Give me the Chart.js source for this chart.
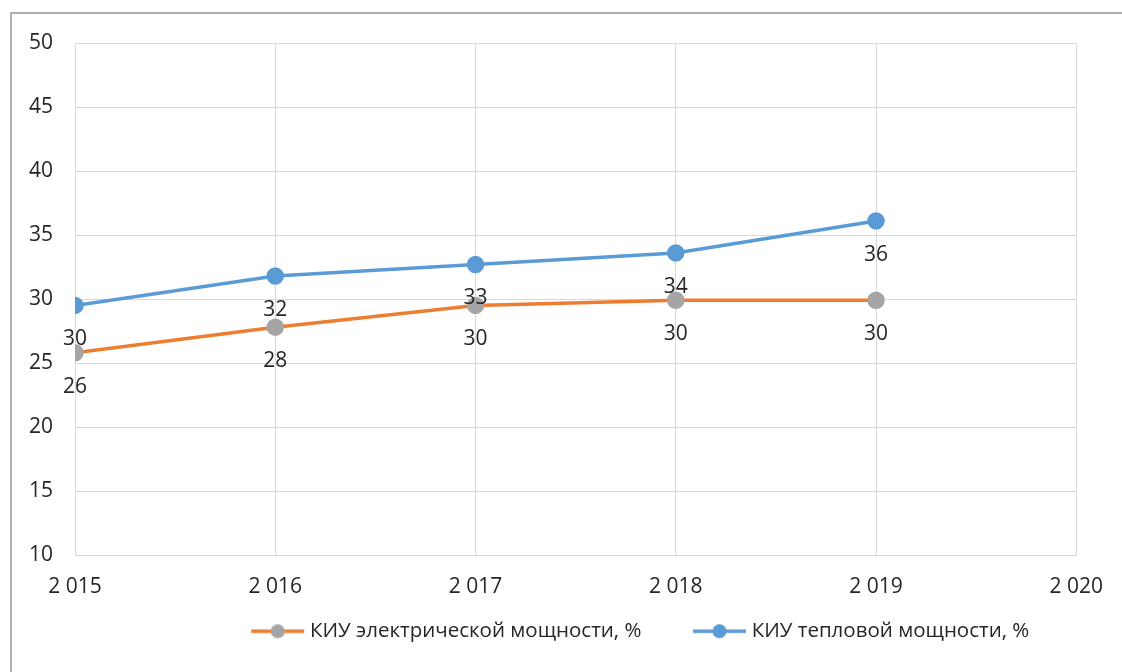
<!DOCTYPE html>
<html>
<head>
<meta charset="utf-8">
<script src="https://cdn.jsdelivr.net/npm/chart.js@4"></script>
<style>
  html, body { margin: 0; padding: 0; background: #fff; overflow: hidden; }
  #wrap { position: relative; width: 1122px; height: 672px; }
  #frame { position: absolute; left: 10px; top: 12px; width: 1200px; height: 800px;
           border-left: 2px solid #b3b3b3; border-top: 2px solid #adadad; }
  #myChart { position: absolute; left: 0; top: 0; }
</style>
</head>
<body>
<div id="wrap">
  <div id="frame"></div>
  <canvas id="myChart" width="1122" height="672"></canvas>
</div>
<script>
// Данные графика
var years = [2015, 2016, 2017, 2018, 2019];
var kiuElectric = [25.8, 27.8, 29.5, 29.9, 29.9];
var kiuHeat = [29.5, 31.8, 32.7, 33.6, 36.1];
var seriesNames = ['КИУ электрической мощности, %', 'КИУ тепловой мощности, %'];
var yTicks = [10, 15, 20, 25, 30, 35, 40, 45, 50];

var FONT = '"Open Sans", sans-serif';
var FSIZE = 21;
var textColor = '#262626';

function toPoints(vals) {
    return vals.map(function (v, i) { return { x: years[i], y: v }; });
}

// маркер легенды: линия с кружком
function legendMarker(lineColor, dotColor) {
    var c = document.createElement('canvas');
    c.width = 55; c.height = 16;
    var g = c.getContext('2d');
    g.strokeStyle = lineColor;
    g.lineWidth = 3.5;
    g.beginPath(); g.moveTo(1, 8); g.lineTo(54, 8); g.stroke();
    g.fillStyle = dotColor;
    g.beginPath(); g.arc(27.5, 8, 7, 0, Math.PI * 2); g.fill();
    return c;
}
var markers = [legendMarker('#ED7D31', '#A5A5A5'), legendMarker('#5B9BD5', '#5B9BD5')];

// подписи значений под точками
var valueLabels = {
    id: 'valueLabels',
    afterDatasetsDraw: function (chart) {
        var ctx = chart.ctx;
        ctx.save();
        ctx.font = FSIZE + 'px ' + FONT;
        ctx.fillStyle = textColor;
        ctx.textAlign = 'center';
        ctx.textBaseline = 'middle';
        chart.data.datasets.forEach(function (ds, di) {
            chart.getDatasetMeta(di).data.forEach(function (pt, i) {
                ctx.fillText(Math.round(ds.data[i].y), pt.x, pt.y + 34);
            });
        });
        ctx.restore();
    }
};

// легенда: широкий отступ между элементами, но низкая и сдвинутая
var legendPatch = {
    id: 'legendPatch',
    beforeUpdate: function (chart) {
        var lg = chart.legend;
        if (lg && !lg._patched) {
            var fit = lg.fit;
            lg.fit = function () { fit.call(this); this.height = 67; };
            lg._patched = true;
        }
    },
    afterLayout: function (chart) {
        var lg = chart.legend;
        lg.top -= 40;
        lg.left += 104;
        lg.right += 104;
    }
};

var chart = document.getElementById('myChart').getContext('2d');
var myChart = new Chart(chart, {
    type: 'line',
    data: {
        datasets: [
            {
                label: seriesNames[0],
                data: toPoints(kiuElectric),
                borderColor: '#ED7D31',
                backgroundColor: '#A5A5A5',
                pointBackgroundColor: '#A5A5A5',
                pointBorderColor: '#A5A5A5',
                borderWidth: 3.5,
                pointRadius: 7,
                fill: false
            },
            {
                label: seriesNames[1],
                data: toPoints(kiuHeat),
                borderColor: '#5B9BD5',
                backgroundColor: '#5B9BD5',
                pointBackgroundColor: '#5B9BD5',
                pointBorderColor: '#5B9BD5',
                borderWidth: 3.5,
                pointRadius: 7,
                fill: false
            }
        ]
    },
    options: {
        responsive: false,
        animation: false,
        layout: { padding: { top: 43, right: 45, left: 0, bottom: 0 } },
        plugins: {
            tooltip: { enabled: false },
            legend: {
                position: 'bottom',
                labels: {
                    usePointStyle: true,
                    pointStyleWidth: 44,
                    padding: 56,
                    color: textColor,
                    font: { family: FONT, size: 20.5 },
                    generateLabels: function (ch) {
                        var items = Chart.defaults.plugins.legend.labels.generateLabels(ch);
                        items.forEach(function (it, i) { it.pointStyle = markers[i]; });
                        return items;
                    }
                }
            }
        },
        scales: {
            x: {
                type: 'linear',
                min: 2015,
                max: 2020,
                grid: { color: '#d9d9d9', drawTicks: false },
                border: { color: '#d9d9d9' },
                afterFit: function (s) { s.height = 50; },
                ticks: {
                    stepSize: 1,
                    padding: 19,
                    color: textColor,
                    font: { family: FONT, size: FSIZE },
                    callback: function (v) { return String(v).replace(/^(\d)(\d{3})$/, '$1 $2'); }
                }
            },
            y: {
                min: yTicks[0],
                max: yTicks[yTicks.length - 1],
                grid: { color: '#d9d9d9', drawTicks: false },
                border: { color: '#d9d9d9' },
                afterFit: function (s) { s.width = 75; },
                ticks: {
                    stepSize: 5,
                    padding: 22,
                    color: textColor,
                    font: { family: FONT, size: FSIZE }
                }
            }
        }
    },
    plugins: [legendPatch, valueLabels]
});
</script>
</body>
</html>
